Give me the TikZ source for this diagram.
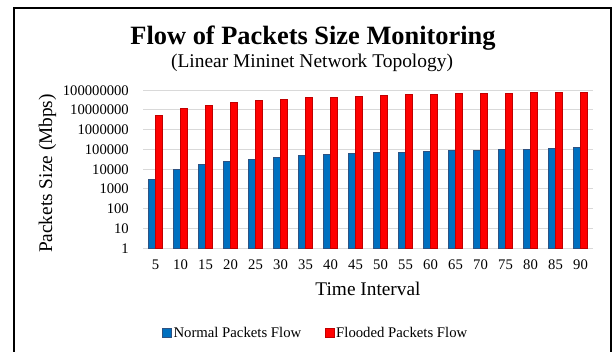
\documentclass[tikz,border=0pt]{standalone}
\usepackage{fontspec}
\setmainfont{Liberation Serif}
\definecolor{normalblue}{HTML}{0070C0}
\definecolor{normaledge}{HTML}{2F5281}
\definecolor{floodred}{HTML}{FF0000}
\definecolor{floodedge}{HTML}{C00000}
\definecolor{gridgray}{HTML}{D9D9D9}
\begin{document}
\begin{tikzpicture}[x=1bp,y=-1bp,
  gridline/.style={draw=gridgray,line width=1bp},
  normalbar/.style={fill=normalblue,draw=normaledge,line width=0.6bp},
  floodbar/.style={fill=floodred,draw=floodedge,line width=0.6bp},
  ticklabel/.style={inner sep=0pt,font=\fontsize{14.7}{17}\selectfont},
  axistitle/.style={inner sep=0pt,font=\fontsize{19.4}{22}\selectfont},
  legendtext/.style={inner sep=0pt,anchor=base west,font=\fontsize{14.8}{17}\selectfont},
  frameline/.style={line width=2bp,draw=black}]
\useasboundingbox (0,0) rectangle (612,351);

% outer frame (open at the bottom)
\draw[frameline] (14.3,360) -- (14.3,7.5) -- (611,7.5) -- (611,360);

% titles
\node[inner sep=0pt,anchor=base,font=\fontsize{26.5}{30}\selectfont\bfseries] (title) at (313,44) {Flow of Packets Size Monitoring};
\node[inner sep=0pt,anchor=base,font=\fontsize{19.5}{22}\selectfont] (subtitle) at (312,67) {(Linear Mininet Network Topology)};

% horizontal grid, one line per decade
\foreach \k in {0,...,8} {
  \draw[gridline] (143,248-19.75*\k) -- (593,248-19.75*\k);
}

% y tick labels
\foreach \k/\lab in {0/1,1/10,2/100,3/1000,4/10000,5/100000,6/1000000,7/10000000,8/100000000} {
  \node[ticklabel,anchor=base east] (ytick\k) at (129,248-19.75*\k+5) {\lab};
}

% bars: normal flow (log10 of value)
\foreach \b [count=\i from 0] in {3.46,4.00,4.24,4.39,4.51,4.59,4.67,4.72,4.77,4.83,4.86,4.91,4.95,4.96,5.01,5.01,5.06,5.08} {
  \pgfmathsetmacro\cx{155.5+25*\i}
  \pgfmathsetmacro\ytop{248-19.75*\b}
  \draw[normalbar] (\cx-7,248) rectangle (\cx,\ytop);
}
% bars: flooded flow (log10 of value)
\foreach \b [count=\i from 0] in {6.70,7.05,7.22,7.37,7.46,7.53,7.61,7.65,7.70,7.75,7.78,7.80,7.81,7.83,7.85,7.86,7.86,7.90} {
  \pgfmathsetmacro\cx{155.5+25*\i}
  \pgfmathsetmacro\ytop{248-19.75*\b}
  \draw[floodbar] (\cx,248) rectangle (\cx+7,\ytop);
}

% x tick labels
\foreach \t [count=\i from 0] in {5,10,...,90} {
  \node[ticklabel,anchor=base] (xtick\i) at (155.5+25*\i,269.7) {\t};
}

% axis titles
\node[axistitle,anchor=base] (xtitle) at (368,295) {Time Interval};
\node[axistitle,anchor=base,rotate=90] (ytitle) at (52,173.5) {Packets Size (Mbps)};

% legend
\draw[normalbar] (162,328.5) rectangle (171,337);
\node[legendtext] (legnormal) at (173.3,337) {Normal Packets Flow};
\draw[floodbar] (325,328.5) rectangle (334,337);
\node[legendtext] (legflood) at (336,337) {Flooded Packets Flow};
\end{tikzpicture}
\end{document}
